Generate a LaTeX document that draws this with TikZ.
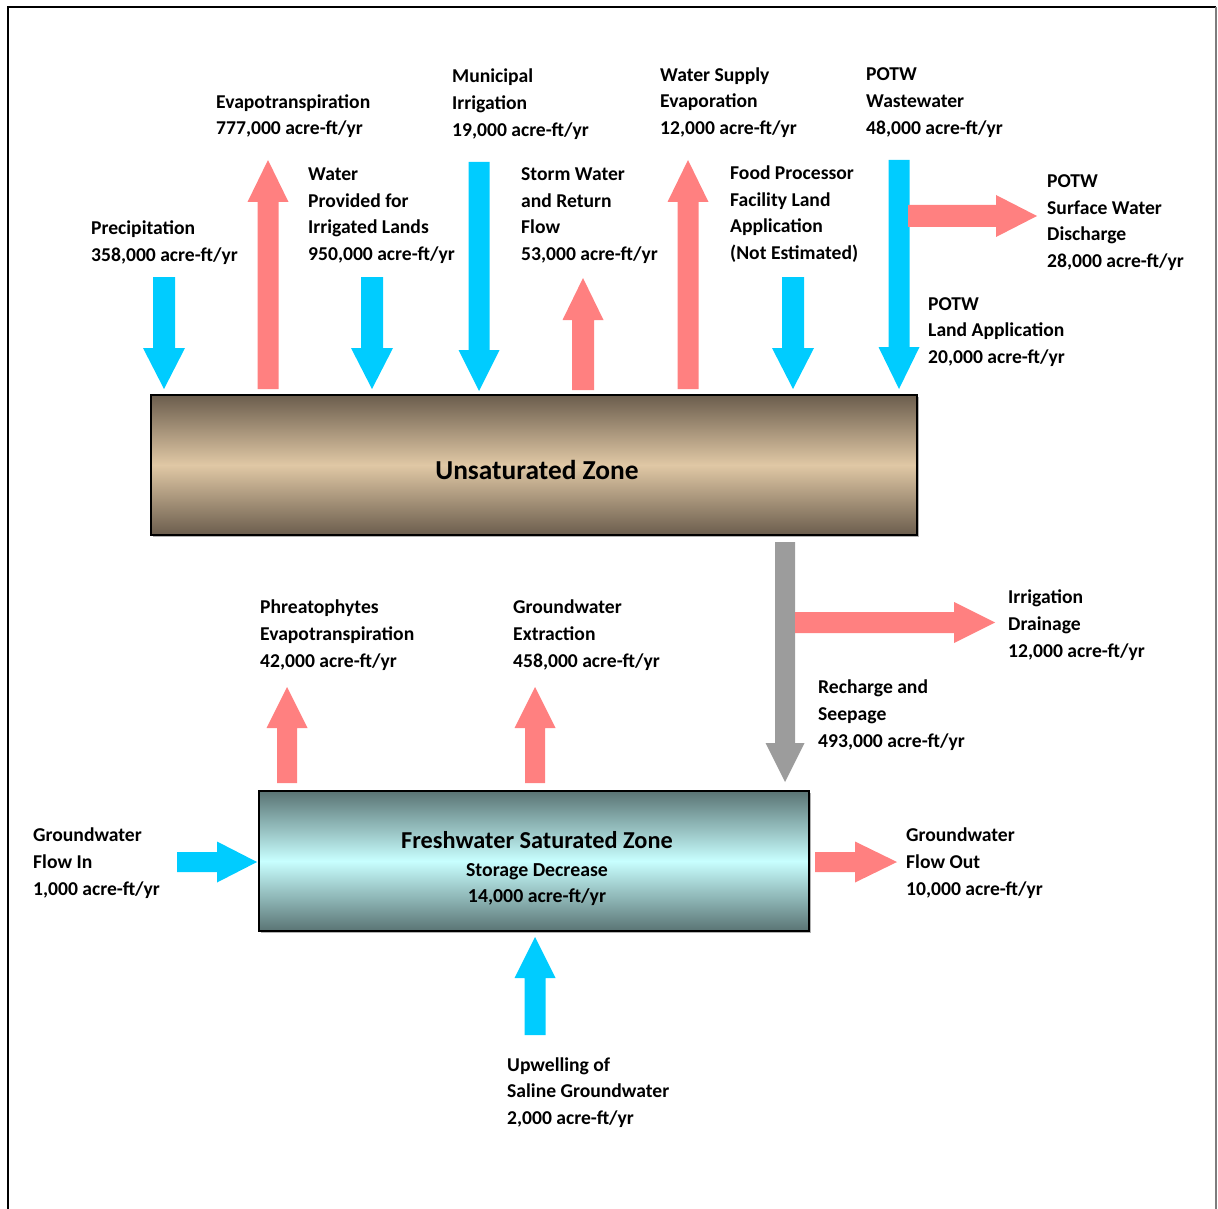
\documentclass[tikz,border=0pt]{standalone}
\usepackage{fontspec}
\setmainfont{Carlito}
\definecolor{flowblue}{HTML}{00CCFF}
\definecolor{flowpink}{HTML}{FF8080}
\definecolor{flowgray}{HTML}{9C9C9C}
\definecolor{unsdark}{HTML}{6B5D4D}
\definecolor{unslight}{HTML}{E0C8A5}
\definecolor{frdark}{HTML}{5A7474}
\definecolor{frlight}{HTML}{C8FFFF}
% vertical block arrow: color, x, y tail, y head base, y tip, shaft half, head half
\newcommand{\VBlockArrow}[7]{%
  \fill[#1] ({#2-#6},#3) -- ({#2+#6},#3) -- ({#2+#6},#4) -- ({#2+#7},#4) -- (#2,#5)
    -- ({#2-#7},#4) -- ({#2-#6},#4) -- cycle;}
% horizontal block arrow: color, y, x tail, x head base, x tip, shaft half, head half
\newcommand{\HBlockArrow}[7]{%
  \fill[#1] (#3,{#2-#6}) -- (#3,{#2+#6}) -- (#4,{#2+#6}) -- (#4,{#2+#7}) -- (#5,#2)
    -- (#4,{#2-#7}) -- (#4,{#2-#6}) -- cycle;}
\tikzset{
  lbl/.style={font=\fontsize{19.6}{26.6}\selectfont\bfseries, align=left, anchor=west, inner sep=0pt, yshift=-1.6pt},
  zonebox/.style={draw=black, line width=1.4pt, inner sep=0pt},
}
\begin{document}
\begin{tikzpicture}[x=1pt,y=-1pt]
\useasboundingbox (0,0) rectangle (1218,1209);
% frame
\draw[black, line width=2pt] (8,1212) -- (8,7) -- (1216,7);
\draw[flowgray!80!black, line width=1.3pt] (1216,7) -- (1216,1212);

% zones
\fill[gray!60] (153,397) rectangle (919,537);
\node[zonebox, minimum width=766pt, minimum height=140pt,
  top color=unsdark, bottom color=unsdark, middle color=unslight] (unsat) at (534,465) {};
\node[font=\fontsize{27.4}{30}\selectfont\bfseries] (unsattxt) at (537,470) {Unsaturated Zone};

\fill[gray!60] (261,793) rectangle (811,933);
\node[zonebox, minimum width=550pt, minimum height=140pt,
  top color=frdark, bottom color=frdark, middle color=frlight] (fresh) at (534,861) {};
\node[font=\fontsize{24.3}{28}\selectfont\bfseries] (freshtxt) at (537,840) {Freshwater Saturated Zone};
\node[font=\fontsize{19.8}{26}\selectfont\bfseries] (freshsub) at (537,871.5) {Storage Decrease};
\node[font=\fontsize{19.8}{26}\selectfont\bfseries] (freshval) at (537,897) {14,000 acre-ft/yr};

% arrows into/out of unsaturated zone
\VBlockArrow{flowblue}{164}{277}{348}{389}{11}{21}
\VBlockArrow{flowpink}{268}{389}{202}{160}{10.5}{20.5}
\VBlockArrow{flowblue}{372}{277}{348}{389}{11}{21}
\VBlockArrow{flowblue}{479}{162}{350}{391}{10.5}{20.5}
\VBlockArrow{flowpink}{583}{390}{320}{278}{11}{20.5}
\VBlockArrow{flowpink}{688}{389}{202}{160}{10.5}{20.5}
\VBlockArrow{flowblue}{793}{277}{348}{389}{11}{21}
\VBlockArrow{flowblue}{899}{160}{347}{389}{10.5}{20.5}
\HBlockArrow{flowpink}{216}{908}{996}{1037}{11}{21}
% recharge and branches
\VBlockArrow{flowgray}{785}{542}{743}{782}{10}{19.5}
\HBlockArrow{flowpink}{622.5}{795}{954}{995}{10.5}{20.5}
% saturated zone
\VBlockArrow{flowpink}{287}{783}{728}{687}{10}{20.5}
\VBlockArrow{flowpink}{535}{783}{728}{687}{10}{20.5}
\HBlockArrow{flowblue}{862}{177}{217}{257}{10}{20.5}
\HBlockArrow{flowpink}{862}{815}{855}{897}{10}{20.5}
\VBlockArrow{flowblue}{535}{1035}{978}{937}{10.5}{20.5}

% labels
\node[lbl] (lprecip) at (91,241) {Precipitation\\358,000 acre-ft/yr};
\node[lbl] (levap) at (216,114.5) {Evapotranspiration\\777,000 acre-ft/yr};
\node[lbl] (lwater) at (308,214) {Water\\Provided for\\Irrigated Lands\\950,000 acre-ft/yr};
\node[lbl] (lmuni) at (452,102.5) {Municipal\\Irrigation\\19,000 acre-ft/yr};
\node[lbl] (lstorm) at (521,214) {Storm Water\\and Return\\Flow\\53,000 acre-ft/yr};
\node[lbl] (lsupply) at (660,101) {Water Supply\\Evaporation\\12,000 acre-ft/yr};
\node[lbl] (lfood) at (730,212.5) {Food Processor\\Facility Land\\Application\\(Not Estimated)};
\node[lbl] (lpotww) at (866,101) {POTW\\Wastewater\\48,000 acre-ft/yr};
\node[lbl] (lpotsw) at (1047,221) {POTW\\Surface Water\\Discharge\\28,000 acre-ft/yr};
\node[lbl] (lpotla) at (928,330.5) {POTW\\Land Application\\20,000 acre-ft/yr};
\node[lbl] (lphreat) at (260,633.5) {Phreatophytes\\Evapotranspiration\\42,000 acre-ft/yr};
\node[lbl] (lgwext) at (513,633.5) {Groundwater\\Extraction\\458,000 acre-ft/yr};
\node[lbl] (lirr) at (1008,623.5) {Irrigation\\Drainage\\12,000 acre-ft/yr};
\node[lbl] (lrech) at (818,713.5) {Recharge and\\Seepage\\493,000 acre-ft/yr};
\node[lbl] (lflowin) at (33,861.5) {Groundwater\\Flow In\\1,000 acre-ft/yr};
\node[lbl] (lflowout) at (906,861.5) {Groundwater\\Flow Out\\10,000 acre-ft/yr};
\node[lbl] (lupwell) at (507,1091) {Upwelling of\\Saline Groundwater\\2,000 acre-ft/yr};
\end{tikzpicture}
\end{document}
